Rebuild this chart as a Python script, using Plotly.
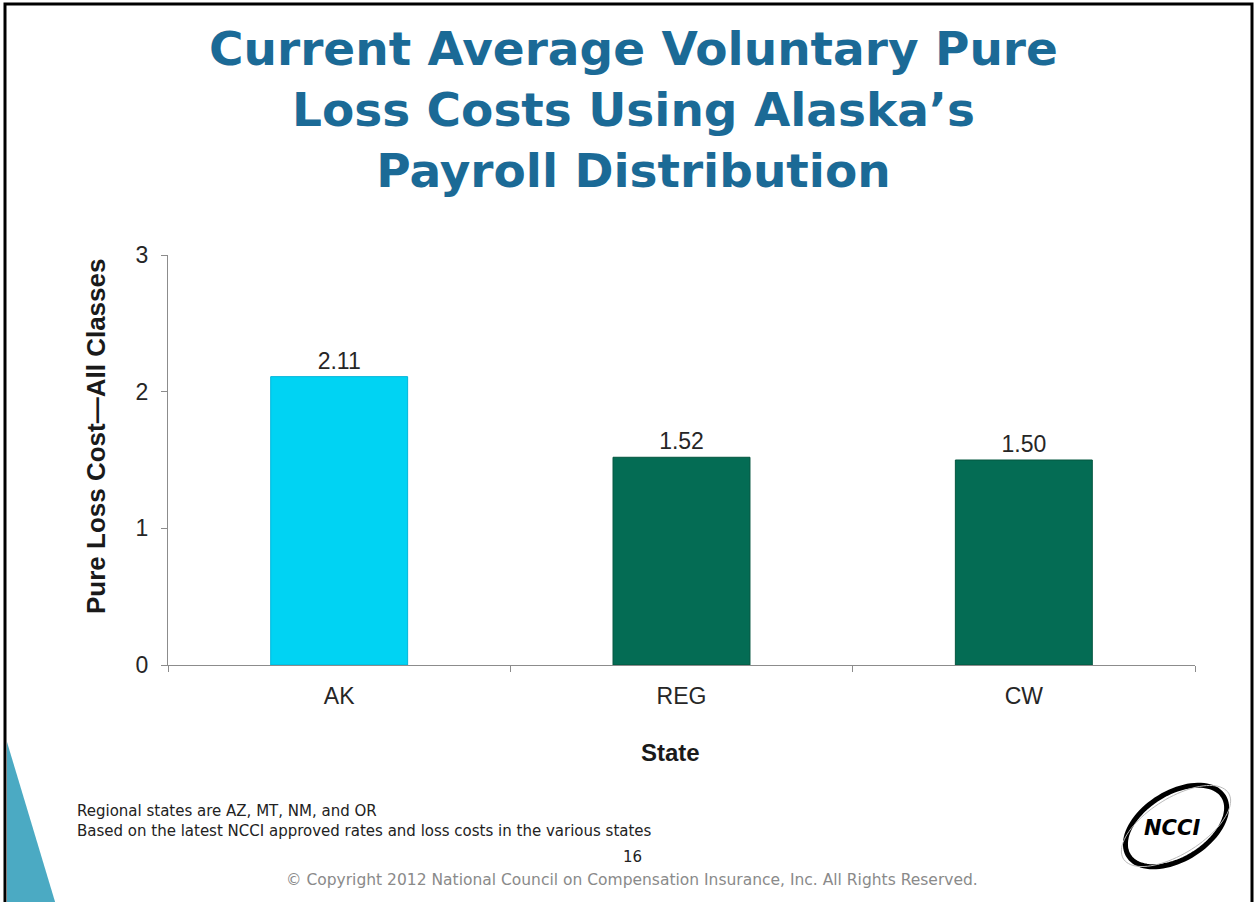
import numpy as np
import plotly.graph_objects as go

states = ["AK", "REG", "CW"]
loss_costs = [2.11, 1.52, 1.50]
labels = ["2.11", "1.52", "1.50"]
bar_colors = ["#00D3F3", "#046C54", "#046C54"]
edge_colors = ["#00B5DA", "#03563F", "#03563F"]

y_ticks = [0, 1, 2, 3]

W, H = 1257, 902
PL, PR, PT, PB = 168, 1195, 255, 665   # plot area in page pixels
PW, PH = PR - PL, PB - PT


def px(x):
    return (x - PL) / PW


def py(y):
    return (PB - y) / PH


def ellipse(cx, cy, a, b, deg):
    t = np.linspace(0, 2 * np.pi, 90)
    ang = np.deg2rad(deg)
    ex = cx + a * np.cos(t) * np.cos(ang) - b * np.sin(t) * np.sin(ang)
    ey = cy + a * np.cos(t) * np.sin(ang) + b * np.sin(t) * np.cos(ang)
    return "M " + " L ".join(f"{px(x):.4f},{py(y):.4f}" for x, y in zip(ex, ey)) + " Z"


fig = go.Figure()
fig.add_trace(go.Bar(
    x=states, y=loss_costs, text=labels, textposition="outside",
    marker=dict(color=bar_colors, line=dict(width=1, color=edge_colors)),
    textfont=dict(family="Liberation Sans, Arial", size=23, color="#262626"),
    width=0.4, cliponaxis=False,
))

tri = f"M {px(7)},{py(742)} L {px(56)},{py(905)} L {px(7)},{py(905)} Z"

fig.update_layout(
    width=W, height=H,
    margin=dict(l=PL, r=W - PR, t=PT, b=H - PB),
    paper_bgcolor="white", plot_bgcolor="white",
    showlegend=False,
    xaxis=dict(
        showline=True, linecolor="#8c8c8c", linewidth=1,
        ticks="outside", tickson="boundaries", ticklen=6, tickcolor="#8c8c8c",
        tickfont=dict(family="Liberation Sans, Arial", size=23, color="#262626"),
        ticklabelstandoff=10, showgrid=False,
    ),
    yaxis=dict(
        range=[0, 3], tickvals=y_ticks, showline=True, linecolor="#8c8c8c",
        linewidth=1, ticks="outside", ticklen=6, tickcolor="#8c8c8c",
        tickfont=dict(family="Liberation Sans, Arial", size=23, color="#262626"),
        ticklabelstandoff=8, showgrid=False, zeroline=False,
    ),
    shapes=[
        dict(type="path", path=tri, xref="paper", yref="paper",
             fillcolor="#2B9BB8", line=dict(width=0), opacity=0.85),
        dict(type="path", path=ellipse(1176, 826, 56, 33, -32), xref="paper", yref="paper",
             line=dict(color="black", width=5)),
        dict(type="path", path=ellipse(1176, 826, 62, 28, -32), xref="paper", yref="paper",
             line=dict(color="#bbbbbb", width=1)),
        dict(type="rect", xref="paper", yref="paper",
             x0=px(5), x1=px(1252), y0=py(4), y1=py(910),
             line=dict(color="black", width=3)),
    ],
    annotations=[
        dict(text="<b>Current Average Voluntary Pure<br>Loss Costs Using Alaska’s<br>Payroll Distribution</b>",
             x=px(633), y=py(110), xref="paper", yref="paper", showarrow=False,
             font=dict(family="DejaVu Sans", size=47, color="#1B6A96"),
             xanchor="center", yanchor="middle", align="center"),
        dict(text="<b>Pure Loss Cost—All Classes</b>", textangle=-90,
             x=px(96), y=py(437), xref="paper", yref="paper", showarrow=False,
             xanchor="center", yanchor="middle",
             font=dict(family="Liberation Sans, Arial", size=26, color="#1a1a1a")),
        dict(text="<b>State</b>",
             x=px(670), y=py(752), xref="paper", yref="paper", showarrow=False,
             xanchor="center", yanchor="middle",
             font=dict(family="Liberation Sans, Arial", size=24, color="#1a1a1a")),
        dict(text="Regional states are AZ, MT, NM, and OR<br>Based on the latest NCCI approved rates and loss costs in the various states",
             x=px(75), y=py(821), xref="paper", yref="paper", showarrow=False,
             xanchor="left", yanchor="middle", align="left",
             font=dict(family="DejaVu Sans", size=15, color="#222222")),
        dict(text="16",
             x=px(632), y=py(857), xref="paper", yref="paper", showarrow=False,
             xanchor="center", yanchor="middle",
             font=dict(family="DejaVu Sans", size=15, color="#222222")),
        dict(text="© Copyright 2012 National Council on Compensation Insurance, Inc. All Rights Reserved.",
             x=px(632), y=py(880), xref="paper", yref="paper", showarrow=False,
             xanchor="center", yanchor="middle",
             font=dict(family="DejaVu Sans", size=15.5, color="#8a8a8a")),
        dict(text="<b><i>NCCI</i></b>",
             x=px(1172), y=py(828), xref="paper", yref="paper", showarrow=False,
             xanchor="center", yanchor="middle",
             font=dict(family="DejaVu Sans", size=21, color="black")),
    ],
)

# drop the browser's default body margin so page pixels match the figure
fig.write_html("out.html", config={"displayModeBar": False},
               post_script="document.body.style.margin='0px';")
